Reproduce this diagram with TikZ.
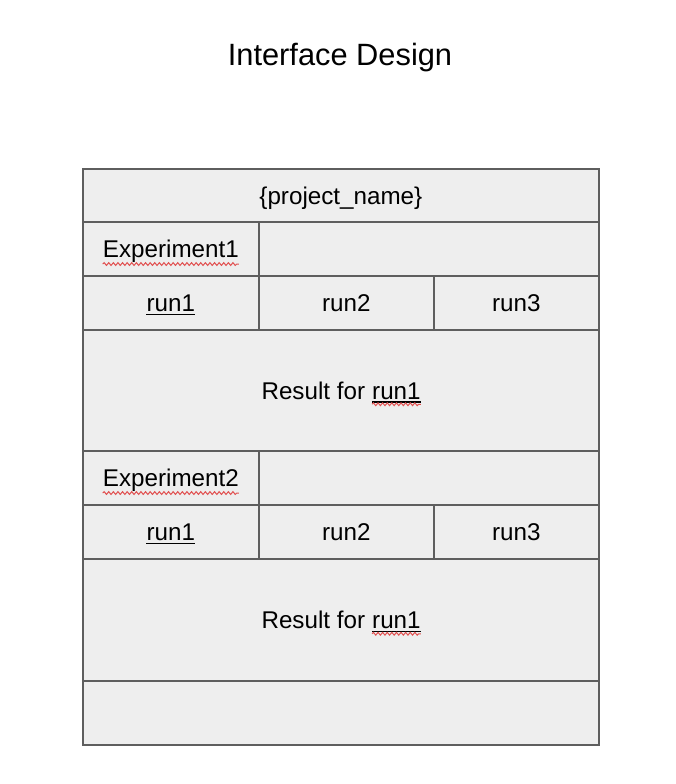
\documentclass[tikz,border=0pt]{standalone}
\usepackage{fontspec}
\setmainfont{Liberation Sans}
\usetikzlibrary{calc,decorations.pathmorphing}
\definecolor{cellfill}{HTML}{EEEEEE}
\definecolor{cellline}{HTML}{5E5E5E}
\definecolor{spell}{RGB}{225,80,80}
\begin{document}
\begin{tikzpicture}[x=1pt,y=-1pt,
  cell/.style={draw=cellline, fill=cellfill, line width=1.7pt, inner sep=0pt, anchor=north west},
  txt/.style={inner sep=0pt, text height=17.4pt, text depth=0pt, font=\fontsize{24.2}{29}\selectfont},
  uline/.style={black, line width=1.4pt},
  squiggle/.style={spell, line width=1pt, decorate, decoration={snake, amplitude=1.4pt, segment length=4.6pt}}
]
\useasboundingbox (0,0) rectangle (676,784);
% title
\node[inner sep=0pt, text height=22pt, text depth=0pt, font=\fontsize{30.8}{36}\selectfont] (title) at (340,55) {Interface Design};
% cells
\node[cell, minimum width=516, minimum height=53] (proj) at (82,168) {};
\node[cell, minimum width=176, minimum height=54] (exp1) at (82,221) {};
\node[cell, minimum width=340, minimum height=54] (exp1r) at (258,221) {};
\node[cell, minimum width=176, minimum height=54] (a1) at (82,275) {};
\node[cell, minimum width=175, minimum height=54] (a2) at (258,275) {};
\node[cell, minimum width=165, minimum height=54] (a3) at (433,275) {};
\node[cell, minimum width=516, minimum height=121] (res1) at (82,329) {};
\node[cell, minimum width=176, minimum height=54] (exp2) at (82,450) {};
\node[cell, minimum width=340, minimum height=54] (exp2r) at (258,450) {};
\node[cell, minimum width=176, minimum height=54] (b1) at (82,504) {};
\node[cell, minimum width=175, minimum height=54] (b2) at (258,504) {};
\node[cell, minimum width=165, minimum height=54] (b3) at (433,504) {};
\node[cell, minimum width=516, minimum height=122] (res2) at (82,558) {};
\node[cell, minimum width=516, minimum height=64] (foot) at (82,680) {};
% texts
\node[txt] (tproj) at (proj.center) {\{project\_name\}};
\node[txt] (texp1) at (exp1.center) {Experiment1};
\node[txt] (ta1) at (a1.center) {run1};
\node[txt] (ta2) at (a2.center) {run2};
\node[txt] (ta3) at (a3.center) {run3};
\node[txt, anchor=base west] (tres1a) at ($(res1.center)+(-79.5,8.7)$) {Result for};
\node[txt, anchor=base west] (tres1b) at ($(tres1a.base east)+(6.7,0)$) {run1};
\node[txt] (texp2) at (exp2.center) {Experiment2};
\node[txt] (tb1) at (b1.center) {run1};
\node[txt] (tb2) at (b2.center) {run2};
\node[txt] (tb3) at (b3.center) {run3};
\node[txt, anchor=base west] (tres2a) at ($(res2.center)+(-79.5,8.7)$) {Result for};
\node[txt, anchor=base west] (tres2b) at ($(tres2a.base east)+(6.7,0)$) {run1};
% underlines
\foreach \n in {ta1,tb1,tres1b,tres2b}{
  \draw[uline] ($(\n.base west)+(0,3)$) -- ($(\n.base east)+(0,3)$);
}
% spell-check squiggles
\foreach \n in {texp1,texp2}{
  \draw[squiggle] ($(\n.base west)+(0,6.5)$) -- ($(\n.base east)+(0,6.5)$);
}
\foreach \n in {tres1b,tres2b}{
  \draw[squiggle] ($(\n.base west)+(0,5.2)$) -- ($(\n.base east)+(0,5.2)$);
}
\end{tikzpicture}
\end{document}
